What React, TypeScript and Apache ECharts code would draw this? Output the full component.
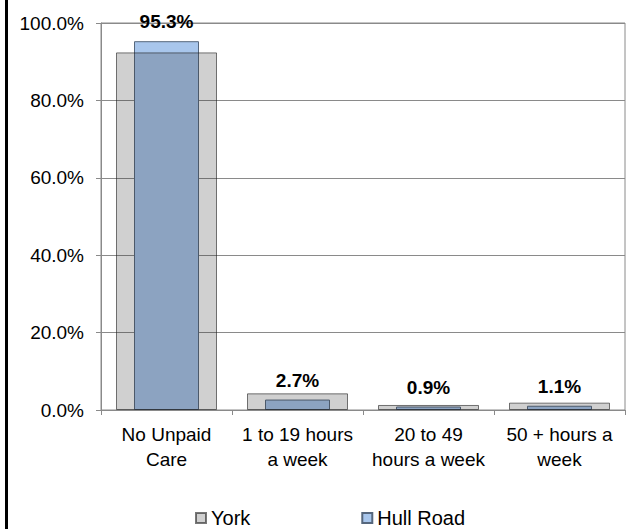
import React, { useEffect, useRef } from "react";
import * as echarts from "echarts";

const categories = [
  "No Unpaid\nCare",
  "1 to 19 hours\na week",
  "20 to 49\nhours a week",
  "50 + hours a\nweek",
];
const yorkValues = [92.4, 4.3, 1.3, 1.9];
const hullRoadValues = [95.3, 2.7, 0.9, 1.1];
const seriesNames = ["York", "Hull Road"];

const FONT = "'Liberation Sans', Arial, sans-serif";

export default function App() {
  const ref = useRef<HTMLDivElement>(null);
  useEffect(() => {
    if (!ref.current) return;
    const chart = echarts.init(ref.current, undefined, { renderer: "svg" });
    chart.setOption({
      animation: false,
      backgroundColor: "#ffffff",
      textStyle: { fontFamily: FONT, color: "#000" },
      grid: {
        left: 101,
        right: 1,
        top: 23,
        bottom: 119,
        show: true,
        borderColor: "#8a8a8a",
        borderWidth: 1,
      },
      legend: {
        data: seriesNames,
        left: 190,
        top: 503,
        itemWidth: 10,
        itemHeight: 10,
        itemGap: 111,
        icon: "rect",
        textStyle: { fontFamily: FONT, fontSize: 20, color: "#000" },
      },
      xAxis: [
        {
          type: "category",
          data: categories,
          axisLine: { lineStyle: { color: "#8a8a8a" } },
          axisTick: { show: true, length: 5, lineStyle: { color: "#8a8a8a" } },
          axisLabel: {
            fontFamily: FONT,
            fontSize: 19,
            color: "#000",
            margin: 12,
            lineHeight: 25,
            interval: 0,
          },
        },
        {
          type: "category",
          data: categories,
          show: false,
        },
      ],
      yAxis: {
        type: "value",
        min: 0,
        max: 100,
        interval: 20,
        axisLine: { show: true, lineStyle: { color: "#8a8a8a" } },
        axisTick: { show: true, length: 5, lineStyle: { color: "#8a8a8a" } },
        splitLine: { lineStyle: { color: "#8a8a8a" } },
        axisLabel: {
          fontFamily: FONT,
          fontSize: 19,
          color: "#000",
          margin: 17,
          formatter: (v: number) => v.toFixed(1) + "%",
        },
      },
      series: [
        {
          name: "York",
          type: "bar",
          xAxisIndex: 0,
          data: yorkValues,
          barWidth: 101,
          z: 3,
          itemStyle: {
            color: "rgba(41,41,41,0.22)",
            borderColor: "rgba(30,30,30,0.6)",
            borderWidth: 1,
          },
        },
        {
          name: "Hull Road",
          type: "bar",
          xAxisIndex: 1,
          data: hullRoadValues,
          barWidth: 65,
          z: 2,
          itemStyle: {
            color: "#a8c6ec",
            borderColor: "#56677d",
            borderWidth: 1,
          },
          label: {
            show: true,
            position: "top",
            distance: 10,
            fontFamily: FONT,
            fontSize: 19,
            fontWeight: "bold",
            color: "#000",
            formatter: (p: any) => p.value.toFixed(1) + "%",
          },
        },
      ],
      graphic: [
        {
          type: "rect",
          left: 5,
          top: 0,
          z: 100,
          shape: { width: 3, height: 529 },
          style: { fill: "#000000" },
          silent: true,
        },
      ],
    });
    return () => chart.dispose();
  }, []);
  return (
    <div
      ref={ref}
      style={{ position: "absolute", left: 0, top: 0, width: 626, height: 529 }}
    />
  );
}
